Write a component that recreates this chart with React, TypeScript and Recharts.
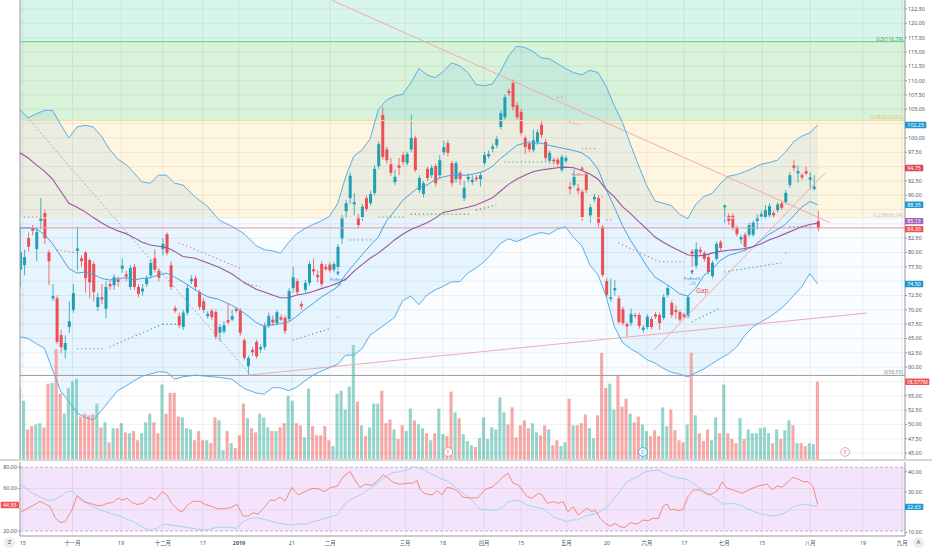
import React from 'react';
import {
  ComposedChart, Bar, Line, Area, XAxis, YAxis, ReferenceLine, ReferenceArea, ReferenceDot,
} from 'recharts';

// ---------- price candles (index 0 = partially hidden first bar) ----------
const opens = [77,77.8,82.5,84.2,80.6,85.5,86.9,80,72,72,65.6,63,67,70,80.3,79,80,78.7,78,70.5,72.2,70.2,74.5,74.3,75.3,77.2,76.2,74,77.5,74,73.2,74.5,76,79,76.8,80.6,83.2,77.8,70.3,68.9,
67,69.5,75,75.5,73.1,71.5,68.9,69.8,69.6,66,66.2,68.2,68.3,70.1,69.8,64.7,60.2,63,64.4,63.1,63.5,67.2,68.3,67.7,68.7,68.6,68.4,73.8,75,71,73.5,74.7,77.1,76.1,78,77.5,77.9,77,77.5,
82.5,87.2,89.5,88.4,86.2,86.2,89.5,88.6,90.4,95.1,104,98,95.4,92.3,95.2,97,95.6,98,100,90.9,90.2,94.6,93.5,95.1,93.5,97.5,99.1,95.6,92.8,93.9,89.5,92.8,92.3,93.1,92.8,95.6,96.8,98.1,98.7,101.9,
103.6,108.2,109.6,105.7,104.5,100,99,97.9,99.3,102.3,99.3,96,96.2,96.2,94.4,96,91.5,91.8,91.2,90.6,93.5,86.5,89.3,89.5,84.5,75,71.9,73.4,72,70.1,67.5,67.7,69.1,69.1,66.5,67,68.4,69.2,69.1,
68.6,72.6,71.2,70,69.6,69.2,68.9,80.2,77.7,80.5,79.9,79.2,75.9,78.9,81.8,87.9,86.4,86.4,84.3,82.3,83.1,83.1,83.1,85.5,86.3,86.2,86.5,86.9,87.4,88.6,88.8,91.8,95.2,93.8,93.5,94.2,92.7,91.1,85.5];
const highs = [84.5,80.5,83.5,84.8,84.4,89.5,87.5,80.5,74.5,72.5,66.5,65.5,71.5,74.5,84.5,79.5,80.3,79,78.5,73,74.5,75,75,76.2,75.8,79,76.8,77.8,78,74.5,74.5,76,78.8,80.5,77.2,82.5,83.5,78.5,70.8,69.5,
70,74.5,76,76,73.5,72,69.8,70.2,70,67.5,68,71,70,70.5,70.3,65,62,63.5,64.8,64,67.8,69.5,69,70,69.2,69,73.8,77.5,75.5,71.5,75.2,78.5,79,77,78.5,78,78.3,78.4,81.5,
86.6,89.2,94,90.4,86.7,88.5,90,90.8,95.2,99.4,105.4,98.5,96.5,94.5,96.5,97.5,97.6,104,100.4,93.5,92.5,95,95.3,95.5,97,99.5,99.6,96,96,94.3,92.5,93.8,93.5,93.5,94,97.5,97.8,99,100.3,104.8,
107.6,108.6,110.2,106.3,105,100.4,99.5,101.5,101.5,103,99.8,97.8,96.6,96.6,97.1,96.9,92.3,94.5,92,91,94,88.4,90.2,90,84.8,75.5,75.5,75.2,72.5,70.5,67.8,70.2,69.5,69.5,67.3,69.2,68.8,69.6,69.5,
72.7,74.2,71.6,70.8,70,69.5,72.6,80.6,81.8,81,80.3,79.6,78.6,81.9,82.2,88.4,86.8,86.8,84.7,83.1,83.5,85.2,85.6,86.7,87.2,88.3,88.6,87.3,88.8,89,90.9,94,96.2,95.2,93.9,95,94,93.5,87.3];
const lows = [74,76,80.2,83,78.5,84,81.5,74.3,71.5,64,62.5,61.5,66,69.5,76.9,77.5,73,72,71.5,69.8,71,68.5,73.5,73.5,74,76.5,75,73.5,73.5,72.2,72.5,74,75.5,76.5,75,79.5,79.5,73.5,69.5,66.8,
66.5,69,74.5,73.5,70,69.5,68.5,68.2,64.8,64.5,65.8,67.5,68,69.5,65.5,61.2,58.55,62,61.5,62.5,63,66.8,67.2,67.3,68,65.8,68,73,72.5,70,73,74.2,76,74.8,74,76.8,76.5,76.5,77,
81.5,86,88.5,86.5,84.2,85.5,87.2,88.2,90,94.6,96.2,95.5,93.4,91.8,93.5,95.2,95.2,97.5,94,90.4,89.6,92.5,93,91.5,93,97,96.8,91.5,92.2,91.8,89,92.2,91.8,92.4,91.5,95.2,96.4,97.5,98.2,101.5,
103.2,107.3,104.8,103.2,100.4,97.2,97.5,97.5,98.8,100,96,95.5,95.4,95,94,95.6,90.2,91.4,90.2,85.5,90.4,85.2,88.8,84.5,75.7,72.2,71.4,72.5,67.5,67.3,65.3,67.2,68.5,66.7,66,66.6,66.6,68.4,66.5,
68.2,72.2,68.6,68.4,67.9,68.5,68.5,77.5,77.2,79.6,78.4,76.2,75.5,78.5,80.4,85.2,84.8,83.9,82.8,81.5,80.2,82.7,82.7,84,85.8,85.8,86.1,86.1,87,87.4,88.4,91.3,94.2,92.2,92.7,93.5,91,90.8,83.7];
const closes = [80,79.2,81,83.8,83.6,86,82.5,78.5,72.4,64.4,63.5,64.2,68,72.9,80.7,78.5,75.5,74.8,73.1,72.2,71.8,74,74.1,75.7,74.9,77.7,75.8,77.3,74,72.8,73.7,75.5,78.2,77,75.6,81.5,79.9,74,69.8,67.3,
69.5,73.8,75.4,74,70.5,70,69.3,68.7,65.3,67,67.3,67.8,68.9,69.8,66,61.6,61.6,62.6,61.9,63.5,67.2,68.9,67.8,69.6,68.3,66.3,73.3,75.7,73.1,70.6,74.7,78,76.7,75.7,74.5,77.1,76.9,78,81,
86.2,88.6,93.4,88.8,84.8,88,87.6,90.2,94.6,98.9,96.7,96.1,93.9,93.2,94.8,95.8,97.2,100,94.4,93,92.1,93,94.8,92.1,96.1,98.4,97.4,92.1,95.6,92.8,91.3,93.2,92.7,92.8,93.5,97,97.2,98.5,99.8,104.3,
107.1,107.8,105.4,103.6,100.9,98.4,98,99.6,101,100.5,96.5,97.4,95.9,95.5,96.7,96.5,91.1,93.2,90.8,86.2,90.9,87.9,89.7,85.2,76.1,72.6,72.2,73.8,67.9,67.7,67.1,69.3,68.9,67.2,66.9,68.8,67,68.8,67.7,
72.2,73.8,69.1,69.6,68.3,68.8,72.2,79.8,80.6,80.1,78.9,76.6,78.2,81.5,80.8,88.2,85.5,84.3,83.2,82.7,81,84.8,85.2,86.2,86.7,87.4,88.1,86.5,88.4,87.8,90.4,93.5,94.8,94.2,93.1,93.8,93.1,91.5,84.3];
// volume in millions
const volumes = [17.1,14,7.1,7.9,8.3,8.6,7.6,18.1,18.3,26.4,15.7,10.9,17.1,18.6,19.3,10.2,10.9,10.5,10.7,13.3,7.6,8.8,4,7.4,7.4,8.6,6.4,6.2,6.7,4.5,6.2,8.8,10.9,8.8,6.2,17.9,10.9,15.9,15.9,10.2,
10,7.4,7.1,4.5,6.7,4.5,4.5,3.8,10,9.3,2.1,6.7,3.8,2.6,5.7,13.3,9.8,7.4,6.4,10.9,10,7.6,6.7,6.7,7.6,8.6,15.2,14,8.6,8.1,5.2,16.9,7.9,5.7,5.7,7.9,4.5,3.1,15.7,
16.4,11.9,17.4,27.4,13.8,8.1,5.5,7.6,13.3,13.3,16.4,8.6,9.5,7.1,4.8,8.1,6.7,12.1,9.3,8.3,7.4,6.2,4.5,6.2,12.1,6,5.5,16.2,11.2,9.8,6,4.3,3.3,2.9,5,10,4.8,7.6,7.1,14.8,
11.2,8.3,12.4,5.2,8.1,9.3,7.4,8.6,6.4,5.7,8.1,7.1,3.3,4.5,3.1,4,14.5,8.1,8.1,8.6,10.7,7.4,5,10.5,25.5,17.1,18.1,11.9,20.2,12.6,14.5,10.9,8.8,10.2,8.3,6.7,5.5,6.9,5.5,
12.4,7.9,11.9,6.9,4.5,4,8.3,25.5,10.5,6.2,4.3,7.1,4.5,10,6.2,17.9,6.2,4.8,3.8,9.8,4.8,7.1,6.2,6.2,7.4,7.6,6.2,3.8,7.1,4.8,6.9,9.3,8.1,3.8,3.8,3.1,3.8,3.6,18.577];

// ---------- Bollinger bands & slow MA (read at these bar indices) ----------
const bbIdx = [0,2,4,6,8,10,12,14,16,18,20,22,24,26,28,30,32,34,36,38,40,43,46,49,52,55,58,60,62,64,66,68,70,72,74,76,78,80,82,84,86,88,90,92,94,96,98,100,102,104,106,108,110,112,114,116,118,120,122,124,126,128,130,132,134,136,138,140,142,144,146,148,150,152,154,156,158,160,162,164,166,168,170,172,174,176,178,180,182,184,186,188,190,192,194,196];
const bbUpper = [104.9,103.5,104.2,104.8,104.8,102.3,100,101.9,102.2,101.9,100.3,98,96.3,95.4,93.9,92.3,92.1,93.5,93.5,92.1,91.8,89.7,88.1,85.6,84.6,83.3,81.2,80.5,80.3,79.9,81.8,83.3,84.2,84.9,85.5,86.3,88.5,93.2,96.8,97.9,99.8,104.9,106.6,107.3,107.6,109.6,112.1,111,110.5,111.6,113.1,112.6,111.4,109.3,109.1,109.4,111.5,114.3,116,115.8,115.1,114,113.8,113,112.1,111.4,111,111.8,111.4,109,105.6,102.7,98.8,95.1,91.6,89,88.6,88.2,86.7,85.9,88.4,89.8,90.3,92,93.3,93.6,94.1,94.7,95.4,95.7,96.1,97.5,99.3,100.3,100.9,102.25];
const bbLower = [65.3,65,64.1,63.3,59.5,55.8,54,52,51.2,50.8,52.4,54.2,55.9,56.7,57.6,58.4,58.8,59.2,59.1,57.9,58.3,58.6,58.4,58.2,57.9,56.3,55.5,55.3,56.4,56.4,55.9,56.5,57.6,58.6,59.3,59.9,60.5,62.1,62.1,63.2,65.6,66.6,67.6,68.7,71.6,72.4,70.9,72.6,73.5,74.1,74.9,74.9,76.4,77.3,78.4,79.9,81.6,82.4,81.9,82.5,83.1,83.5,83.2,84.1,84.5,82.6,81.2,77.8,76.1,72.3,67.1,64.3,63.2,62.4,61.3,60.7,59.8,59.1,58.8,58.3,59,59.7,60.6,61.5,62.3,63.5,65.5,67,67.9,68.7,69.7,70.9,72.5,74,76.3,74.5];
const bbBasis = [84.3,84.3,84.1,83.2,81.5,79.4,77.2,76.4,76.6,76.2,75.5,75.2,75.4,75.6,75.2,75.5,75.6,76.1,76.4,75.7,74.9,73.5,72.3,71.8,70.8,69.5,67.8,67.1,67.4,67.6,67.9,68.9,70.1,71.1,72.2,73.1,74,76.2,77.9,79.6,81.2,82.7,85.5,87.2,89.1,90.3,91.4,91.8,92.7,93.2,93.5,93.5,93.5,93.8,94.2,95,96.4,97.5,98.7,99.1,99.1,99.1,98.7,98.4,98.1,97.8,97.4,96.4,94.5,91,87.9,84.7,82.1,79.9,77.6,75.7,74.8,73.9,72.8,72.4,73.8,76,77,78.6,79.5,79.9,80.4,81,82.1,83.2,84,84.9,86.4,87.9,88.9,88.35];
const maSlow = [97.4,96.5,95.3,94.2,92.8,90.7,88.6,87.9,87.1,86.1,85.2,84.4,83.8,83.3,82.6,81.8,81.3,81.1,80.9,80.2,79.3,79,78.2,77.4,76.3,74.8,73.6,73.1,72.6,72.1,72.1,72.6,72.8,73.2,73.7,74.1,74.7,75.3,76.7,77.9,79,79.9,81,82.2,83.2,84,84.6,85.2,86,87,87.3,87.6,87.9,88.3,88.9,89.5,90.7,91.9,92.8,93.5,94.1,94.4,94.6,94.8,94.9,94.8,94.3,93.7,92.8,91,89.7,88,86.8,85.4,84.1,82.7,81.8,81,80.3,79.6,79.4,79.5,79.9,80.2,80.4,80.5,80.7,81,81.5,82.2,82.7,83.3,83.9,84.5,84.9,85.13];

// ---------- pivot level dots: [i0, p0, i1, p1] ----------
const pivHighSegs = [[1,86.2,7,86.2],[9,80.5,14,79.9],[39,81.7,54,77.3],[55,74.7,59,74.0],[132,107.1,134,107.1],[135,102.8,137,102.3],[138,98.1,142,98.1],[143,89.7,143.2,89.7],[144,85.7,146,85.7],[147,81.7,157,78.4],[157,78.4,164,78.4],[196,94.75,196.2,94.75]];
const pivLowSegs = [[14,63.2,21,63.2],[22,63.5,35,67.5],[35,67.5,39,67.5],[67,64.7,76,66.7],[78,68.7,78.2,68.7],[81,82.2,87,82.2],[88,86.2,95,86.2],[96,86.7,111,86.7],[112,87.4,117,88.3],[119,95.8,130,95.8],[165,67.9,172,70.3],[173,76.6,187,78.2],[188,79.9,188.2,79.9],[189,84.5,195,84.5]];

// ---------- trend lines: [i0, p0, i1, p1] ----------
const trendGray = [1.7, 103.65, 56, 59.15];
const trendPink = [[56,58.6,208.1,69.45],[76.7,124.0,199,85.2],[155.8,63.0,197.8,93.9]];

// ---------- Fibonacci retracement ----------
const fibRatios = [0.5, 0.382, 0.236, 0];
const fibPrices = [116.79, 103.05, 86.04, 58.55];

// ---------- oscillator pane ----------
const rsiPts = [[0.25,38],[3.2,44],[4.9,48],[7.4,43],[8.6,33],[9.8,28],[11.1,29],[12.8,40],[14,53],[15.5,48],[17.2,46],[18.9,44],[20.1,44],[21.4,46],[22.9,47],[24.1,51],[25.1,49],[26.3,51],[27.5,47],[28.7,45],[30.2,46],[31.9,52],[33.2,49],[34.9,57],[36.1,54],[37.3,46],[38.8,40],[39.8,38],[41,44],[42.5,48],[44.2,48],[45.5,45],[47.2,43],[48.6,41],[50.4,41],[51.6,42],[53.3,45],[54.8,34],[56,34],[57.2,37],[58.5,36],[60.2,43],[61.4,49],[62.7,49],[63.9,52],[65.1,48],[66.8,61],[68.3,54],[70,57],[71.7,60],[73.2,60],[74.9,57],[76.2,61],[77.9,62],[79.4,71],[81.1,76],[82.3,68],[83.5,61],[84.8,64],[86.5,63],[88,68],[89.2,73],[90.4,70],[91.6,66],[93.4,64],[95.1,65],[96.6,65],[97.5,68],[98.3,59],[99.5,55],[101.2,54],[102.5,58],[103.7,54],[104.9,61],[106.4,60],[107.6,57],[108.8,52],[110.6,51],[112.5,51.4],[114.3,59.3],[116.2,61.8],[118.7,71.2],[119.9,74.4],[121.1,65],[122.4,63.4],[124.6,52.4],[125.8,50.8],[127.3,55.5],[128.3,54],[129.5,46.1],[131,47.7],[132.2,46.1],[133.4,47.7],[134.6,38.2],[135.9,42.9],[137.1,35.1],[139.3,41.4],[140.5,38.2],[141.3,39.8],[142.5,31.9],[143.7,27.2],[145,24.7],[146.2,27.2],[147.4,24],[148.6,23.4],[149.9,27.8],[151.6,26.5],[153.1,30.3],[154.3,29.7],[155.5,31.9],[156.8,31.9],[158,43.5],[159,45.4],[159.7,39.8],[160.9,40.4],[161.7,39.2],[162.9,40.4],[164.1,52.4],[165.4,58.7],[167.1,58.7],[169,54],[170.3,55.5],[171.5,58.7],[172.5,66.5],[173.7,60.3],[175.2,58.7],[177.4,55.5],[179.4,59.3],[181.3,62.4],[182.6,63.4],[183.5,64.3],[184.8,58.7],[186,62.4],[187.2,61.2],[189.2,68.1],[189.9,70.6],[191.2,68.7],[192.4,66.5],[193.6,66.5],[194.8,61.8],[196,44.55]];
const oscPts = [[0.25,33.4],[3.2,29.3],[4.9,27.6],[6.6,26],[8.1,26],[9.8,27.6],[11.5,30.1],[12.8,30.4],[14,28.5],[15.5,26],[17.2,23.5],[19.7,21.1],[22.1,19.5],[24.6,18.1],[27.8,15.3],[30.2,12.6],[31.9,11.2],[33.7,12.1],[35.1,14.2],[36.9,13.7],[40,12.9],[43.5,11.6],[45.9,11.2],[48.4,12.6],[50.9,12.6],[53.3,12.1],[54.8,15.3],[56.5,17],[58.2,17.3],[59.7,16.6],[62.2,15.3],[64.6,14.2],[66.3,13.7],[68.1,14.2],[70.5,14.2],[72,15.3],[73.7,16.2],[76.2,17.8],[77.9,18.6],[79.9,24.4],[81.8,26.8],[84.3,29.3],[86.7,32.6],[89.2,36.7],[91.4,39.5],[93.4,40],[95.3,41.1],[96.6,42.4],[98.8,41.6],[100.7,39.2],[103.2,36.7],[104.9,35.5],[106.4,33.4],[108.1,30.5],[110.6,27],[113,21.4],[114.7,21.1],[117.2,21.1],[118.7,22.7],[119.9,25.2],[122.4,26],[124.6,23.5],[127,22.4],[128.3,21.9],[129.5,20.3],[131,17.8],[132.7,16.5],[134.2,15.3],[135.6,16.2],[137.1,16.2],[138.8,18.1],[140.8,18.9],[142.5,20.3],[144.2,22.7],[146.7,28.5],[149.1,35],[151.6,37.5],[153.6,40],[155.3,40.5],[156.8,40.8],[159.2,38.3],[161.4,37.1],[163.9,36.2],[165.4,34.2],[167.8,30.9],[170.3,27.6],[172.7,24],[175.2,24.4],[176.9,23.5],[179.4,21.1],[181.3,19.5],[183.5,18.6],[185,18.1],[187.2,19.1],[188.5,20.3],[189.9,22.7],[192.4,24],[194.1,23.5],[196,22.63]];

// ---------- axes ----------
const tickPos = [0.7,12.9,24.8,35.1,44.9,53.8,66.8,76.2,94.6,103.9,114,123.1,134.2,144.2,154,163.2,173,182.3,194.1,207.1,216.7];
const tickLabels = ['15','十一月','19','十二月','17','2019','21','二月','三月','18','四月','15','五月','20','六月','17','七月','15','八月','19','九月'];
const priceTicks = [45,47.5,50,52.5,55,57.5,60,62.5,65,67.5,70,72.5,75,77.5,80,82.5,85,87.5,90,92.5,95,97.5,100,102.5,105,107.5,110,112.5,115,117.5,120,122.5];
// tick labels covered by the value tags on the price scale
const coveredPriceTicks = [57.5, 75, 85, 87.5, 95, 102.5];
const rsiLeftTicks = [20,40,60,80];
const rsiRightTicks = [10,20,30,40];
const coveredLeftTicks = [40];
const coveredRightTicks = [20];

// event markers
const earningsIdx = [105.2, 202.7];
const dividendIdx = [153];
const pivLE = [[78.1, 76.4], [165.1, 76.6]];
const pivSE = [[137.6, 93.4]];
const gapAt = [167.6, 73.3];

// ---------- constants (domains / colors) ----------
const X_MIN = 0, X_MAX = 217.4;
const P_MIN = 43.97, P_MAX = 124.07;
const VOL_MAX = 110.3;
const UP = '#20a0b4', DN = '#ee4f55';
const VUP = '#94d5cc', VDN = '#f7a8a7';
const BB = '#5aaee6', MA = '#9a55a0';
const FONT = "'Noto Sans', 'Noto Sans CJK SC', sans-serif";
const AX_TXT = '#50535e';
const GRID = 'rgba(42,46,57,0.07)';

const candles = opens.map((o, i) => ({ i, o, h: highs[i], l: lows[i], c: closes[i], v: volumes[i] }));
const bbData = bbIdx.map((i, k) => ({ i, u: bbUpper[k], l: bbLower[k], m: bbBasis[k], ma: maSlow[k], band: [bbLower[k], bbUpper[k]] }));
const rsiData = rsiPts.map(([i, v]) => ({ i, v }));
const oscData = oscPts.map(([i, v]) => ({ i, v }));
const last = candles.length - 1;

const CandleShape = (props: any) => {
  const { x, y, width, height, payload } = props;
  if (!payload || y == null || height == null) return null;
  const { o, h, l, c } = payload;
  const col = c >= o ? UP : DN;
  const hh = Math.abs(height);
  const top = Math.min(y, y + height);
  const k = h - l > 0 ? hh / (h - l) : 0;
  const bt = top + (h - Math.max(o, c)) * k;
  const bb = top + (h - Math.min(o, c)) * k;
  const cx = x + width / 2;
  return (
    <g>
      <line x1={cx} x2={cx} y1={top} y2={top + hh} stroke={col} strokeWidth={0.8} />
      <rect x={x} y={bt} width={width} height={Math.max(bb - bt, 0.8)} fill={col} />
    </g>
  );
};

const VolShape = (props: any) => {
  const { x, y, width, height, payload } = props;
  if (!payload || y == null) return null;
  return <rect x={x} y={Math.min(y, y + height)} width={width} height={Math.abs(height)} fill={payload.c >= payload.o ? VUP : VDN} />;
};

// value tag on a scale; dy nudges stacked tags apart like the platform does
const tag = (text: string, bg: string, side: 'right' | 'left' = 'right', dy = 0) => (props: any) => {
  const { cx } = props;
  const cy = props.cy + dy;
  const w = text.length * 3.05 + 3;
  const x0 = side === 'right' ? cx : cx - w - 1;
  return (
    <g>
      <rect x={x0} y={cy - 3.2} width={w} height={6.4} fill={bg} rx={0.6} />
      <text x={x0 + w / 2} y={cy + 1.9} textAnchor="middle" fontSize={5.3} fill="#fff" fontFamily={FONT}>{text}</text>
    </g>
  );
};

const fibColors = ['#3f9f53', '#e5c27a', '#c2c6cc', '#8f9299'];
const fibLabel = (text: string, color: string) => (props: any) => (
  <text x={props.cx - 2} y={props.cy - 1.2} textAnchor="end" fontSize={5.2} fill={color} fontFamily={FONT}>{text}</text>
);

const eventShape = (letter: string, color: string) => (props: any) => (
  <g>
    <circle cx={props.cx} cy={props.cy} r={4.3} fill="#fff" stroke={color} strokeWidth={0.8} />
    <text x={props.cx} y={props.cy + 1.9} textAnchor="middle" fontSize={5} fill={color} fontFamily={FONT}>{letter}</text>
  </g>
);

const LEShape = (props: any) => {
  const { cx, cy } = props;
  const c = '#2e8fd6';
  return (
    <g>
      <path d={`M${cx} ${cy - 2.6} L${cx - 1.8} ${cy} L${cx - 0.7} ${cy} L${cx - 0.7} ${cy + 2} L${cx + 0.7} ${cy + 2} L${cx + 0.7} ${cy} L${cx + 1.8} ${cy} Z`} fill={c} />
      <text x={cx} y={cy + 7.5} textAnchor="middle" fontSize={4} fill={c} fontFamily={FONT}>PivRevLE</text>
      <text x={cx} y={cy + 12.5} textAnchor="middle" fontSize={4} fill={c} fontFamily={FONT}>+10</text>
    </g>
  );
};
const SEShape = (props: any) => {
  const { cx, cy } = props;
  const c = '#ef5350';
  return (
    <g>
      <text x={cx} y={cy} textAnchor="middle" fontSize={4} fill={c} fontFamily={FONT}>PivRevSE</text>
      <path d={`M${cx + 2} ${cy - 4.5} L${cx + 0.2} ${cy - 7} L${cx + 1.3} ${cy - 7} L${cx + 1.3} ${cy - 9} L${cx + 2.7} ${cy - 9} L${cx + 2.7} ${cy - 7} L${cx + 3.8} ${cy - 7} Z`} fill={c} />
    </g>
  );
};
const GapShape = (props: any) => (
  <text x={props.cx} y={props.cy + 2} textAnchor="middle" fontSize={6.6} fill="#ef5350" fontFamily={FONT}>Gap</text>
);

const XTick = (props: any) => {
  const { x, y, payload } = props;
  const idx = tickPos.indexOf(payload.value);
  const label = idx >= 0 ? tickLabels[idx] : '';
  return (
    <text x={x} y={y + 8.5} textAnchor="middle" fontSize={5.4} fill={AX_TXT} fontFamily={FONT} fontWeight={label === '2019' ? 700 : 400}>{label}</text>
  );
};

export default function App() {
  const pAx = { xAxisId: 'p', yAxisId: 'p' } as const;
  const priceTags: [number, string, number][] = [
    [bbUpper[bbUpper.length - 1], '#1e98cf', 0],
    [pivHighSegs[pivHighSegs.length - 1][1], '#df4659', 0],
    [bbBasis[bbBasis.length - 1], '#1e98cf', 0],
    [maSlow[maSlow.length - 1], '#a266b8', -2],
    [closes[last], '#ef5350', 1.2],
    [bbLower[bbLower.length - 1], '#1e98cf', 0],
  ];
  const axisPriceTicks = priceTicks.filter((t) => !coveredPriceTicks.includes(t));
  const axisLeftTicks = rsiLeftTicks.filter((t) => !coveredLeftTicks.includes(t));
  const axisRightTicks = rsiRightTicks.filter((t) => !coveredRightTicks.includes(t));
  return (
    <div style={{ position: 'absolute', left: 0, top: 0, width: 932, height: 550, background: '#fff', overflow: 'hidden', fontFamily: FONT }}>
      <div style={{ position: 'absolute', left: 0, top: 0 }}>
        <ComposedChart width={932} height={460} data={candles} margin={{ top: 0, right: 0, bottom: 1, left: 20 }}>
          <XAxis xAxisId="p" type="number" dataKey="i" domain={[X_MIN, X_MAX]} hide allowDataOverflow />
          <XAxis xAxisId="v" type="number" dataKey="i" domain={[X_MIN, X_MAX]} hide allowDataOverflow />
          <YAxis yAxisId="p" orientation="right" type="number" domain={[P_MIN, P_MAX]} ticks={axisPriceTicks} interval={0}
            allowDataOverflow width={27} tickFormatter={(v: number) => v.toFixed(2)}
            tick={{ fontSize: 5.4, fill: AX_TXT, fontFamily: FONT }} tickSize={2} tickMargin={1}
            axisLine={{ stroke: '#9598a1' }} tickLine={{ stroke: '#9598a1' }} />
          <YAxis yAxisId="vol" hide type="number" domain={[0, VOL_MAX]} allowDataOverflow />

          {/* Fibonacci zones */}
          <ReferenceArea {...pAx} y1={fibPrices[0]} y2={P_MAX} fill="rgb(8,190,140)" fillOpacity={0.16} stroke="none" />
          <ReferenceArea {...pAx} y1={fibPrices[1]} y2={fibPrices[0]} fill="rgb(76,200,80)" fillOpacity={0.22} stroke="none" />
          <ReferenceArea {...pAx} y1={fibPrices[2]} y2={fibPrices[1]} fill="rgb(255,200,60)" fillOpacity={0.16} stroke="none" />
          <ReferenceArea {...pAx} y1={fibPrices[3]} y2={fibPrices[2]} fill="rgb(33,150,243)" fillOpacity={0.025} stroke="none" />

          {/* grid */}
          {priceTicks.map((t) => <ReferenceLine key={'hg' + t} {...pAx} y={t} stroke={GRID} strokeWidth={1} />)}
          {tickPos.map((t) => <ReferenceLine key={'vg' + t} {...pAx} x={t} stroke={GRID} strokeWidth={1} />)}
          <ReferenceLine {...pAx} x={X_MIN} stroke="#a5a8b0" strokeWidth={1.2} />

          {/* fib level lines */}
          <ReferenceLine {...pAx} y={fibPrices[0]} stroke="#7fcf8c" strokeWidth={1.2} />
          <ReferenceLine {...pAx} y={fibPrices[1]} stroke="#f4dc9e" strokeWidth={1} />
          <ReferenceLine {...pAx} y={fibPrices[2]} stroke="#e8ebf0" strokeWidth={1} />
          <ReferenceLine {...pAx} y={fibPrices[3]} stroke="#9a9da4" strokeWidth={1} />

          {/* volume */}
          <Bar xAxisId="v" yAxisId="vol" dataKey="v" barSize={3.1} shape={VolShape} isAnimationActive={false} />

          {/* Bollinger fill */}
          <Area {...pAx} data={bbData} dataKey="band" type="linear" stroke="none" fill="#2196f3" fillOpacity={0.09} isAnimationActive={false} dot={false} activeDot={false} />

          {/* trend lines */}
          <ReferenceLine {...pAx} segment={[{ x: trendGray[0], y: trendGray[1] }, { x: trendGray[2], y: trendGray[3] }]} stroke="#a3a3a3" strokeDasharray="2 2" strokeWidth={0.9} ifOverflow="visible" />
          {trendPink.map((s, k) => (
            <ReferenceLine key={'tp' + k} {...pAx} segment={[{ x: s[0], y: s[1] }, { x: s[2], y: s[3] }]} stroke="#f3a9b0" strokeWidth={1} ifOverflow="visible" />
          ))}
          <ReferenceLine {...pAx} y={closes[last]} stroke="#f0959c" strokeWidth={1} />

          {/* bands & MA */}
          <Line {...pAx} data={bbData} dataKey="u" type="linear" stroke={BB} strokeWidth={1} dot={false} activeDot={false} isAnimationActive={false} />
          <Line {...pAx} data={bbData} dataKey="l" type="linear" stroke={BB} strokeWidth={1} dot={false} activeDot={false} isAnimationActive={false} />
          <Line {...pAx} data={bbData} dataKey="m" type="linear" stroke="#4aa1de" strokeWidth={1} dot={false} activeDot={false} isAnimationActive={false} />
          <Line {...pAx} data={bbData} dataKey="ma" type="linear" stroke={MA} strokeWidth={1.1} dot={false} activeDot={false} isAnimationActive={false} />

          {/* pivot dots */}
          {pivHighSegs.map((s, k) => (
            <ReferenceLine key={'ph' + k} {...pAx} segment={[{ x: s[0], y: s[1] }, { x: s[2], y: s[3] }]} stroke="#e35d6a" strokeWidth={1.1} strokeDasharray="1.1 2.97" ifOverflow="visible" />
          ))}
          {pivLowSegs.map((s, k) => (
            <ReferenceLine key={'pl' + k} {...pAx} segment={[{ x: s[0], y: s[1] }, { x: s[2], y: s[3] }]} stroke="#2e9b6a" strokeWidth={1.1} strokeDasharray="1.1 2.97" ifOverflow="visible" />
          ))}

          {/* candles */}
          <Bar {...pAx} dataKey={(d: any) => [d.l, d.h]} barSize={3} shape={CandleShape} isAnimationActive={false} />

          {/* annotations */}
          {pivLE.map((p, k) => <ReferenceDot key={'le' + k} {...pAx} x={p[0]} y={p[1]} r={1} shape={LEShape} ifOverflow="visible" />)}
          {pivSE.map((p, k) => <ReferenceDot key={'se' + k} {...pAx} x={p[0]} y={p[1]} r={1} shape={SEShape} ifOverflow="visible" />)}
          <ReferenceDot {...pAx} x={gapAt[0]} y={gapAt[1]} r={1} shape={GapShape} ifOverflow="visible" />
          {earningsIdx.map((e, k) => <ReferenceDot key={'e' + k} xAxisId="v" yAxisId="vol" x={e} y={1.7} r={4} shape={eventShape('E', '#f08a8a')} ifOverflow="visible" />)}
          {dividendIdx.map((e, k) => <ReferenceDot key={'d' + k} xAxisId="v" yAxisId="vol" x={e} y={1.7} r={4} shape={eventShape('D', '#3d9be0')} ifOverflow="visible" />)}

          {/* fib labels */}
          {fibRatios.map((r, k) => (
            <ReferenceDot key={'fl' + k} {...pAx} x={X_MAX} y={fibPrices[k]} r={1} shape={fibLabel(`${r}(${fibPrices[k].toFixed(2)})`, fibColors[k])} ifOverflow="visible" />
          ))}

          {/* price tags */}
          {priceTags.map(([p, bg, dy], k) => (
            <ReferenceDot key={'pt' + k} {...pAx} x={X_MAX} y={p} r={1} shape={tag(p.toFixed(2), bg, 'right', dy)} ifOverflow="visible" />
          ))}
          <ReferenceDot xAxisId="v" yAxisId="vol" x={X_MAX} y={volumes[last]} r={1} shape={tag(volumes[last].toFixed(3) + 'M', '#ef5350')} ifOverflow="visible" />
        </ComposedChart>
      </div>

      <div style={{ position: 'absolute', left: 0, top: 459, width: 932, height: 2, background: '#d5d7dd' }} />

      <div style={{ position: 'absolute', left: 0, top: 461 }}>
        <ComposedChart width={932} height={89} margin={{ top: 1, right: 0, bottom: 0, left: 0 }}>
          <XAxis type="number" dataKey="i" domain={[X_MIN, X_MAX]} ticks={tickPos} interval={0} tick={XTick}
            tickLine={false} tickSize={0} tickMargin={0} axisLine={{ stroke: '#9598a1' }} height={14} allowDataOverflow />
          <YAxis yAxisId="l" orientation="left" type="number" domain={[15.3, 85]} ticks={axisLeftTicks} interval={0} width={20}
            allowDataOverflow tickFormatter={(v: number) => v.toFixed(2)} tick={{ fontSize: 5.4, fill: AX_TXT, fontFamily: FONT }}
            tickSize={2} tickMargin={1} axisLine={{ stroke: '#9598a1' }} tickLine={{ stroke: '#9598a1' }} />
          <YAxis yAxisId="r" orientation="right" type="number" domain={[8.27, 44.8]} ticks={axisRightTicks} interval={0} width={27}
            allowDataOverflow tickFormatter={(v: number) => v.toFixed(2)} tick={{ fontSize: 5.4, fill: AX_TXT, fontFamily: FONT }}
            tickSize={2} tickMargin={1} axisLine={{ stroke: '#9598a1' }} tickLine={{ stroke: '#9598a1' }} />

          <ReferenceArea yAxisId="l" y1={20} y2={80} fill="#f3e4fb" fillOpacity={1} stroke="none" />
          {[40, 60].map((t) => <ReferenceLine key={'rg' + t} yAxisId="l" y={t} stroke={GRID} />)}
          {tickPos.map((t) => <ReferenceLine key={'rv' + t} yAxisId="l" x={t} stroke={GRID} />)}
          <ReferenceLine yAxisId="l" y={80} stroke="#c9abdf" strokeDasharray="3 2" />
          <ReferenceLine yAxisId="l" y={20} stroke="#c9abdf" strokeDasharray="3 2" />

          <Line yAxisId="r" data={oscData} dataKey="v" type="linear" stroke="#9fd8ea" strokeWidth={1} dot={false} activeDot={false} isAnimationActive={false} />
          <Line yAxisId="l" data={rsiData} dataKey="v" type="linear" stroke="#f3806b" strokeWidth={0.9} dot={false} activeDot={false} isAnimationActive={false} />

          <ReferenceDot yAxisId="l" x={X_MIN} y={rsiPts[rsiPts.length - 1][1]} r={1} shape={tag(rsiPts[rsiPts.length - 1][1].toFixed(2), '#ef5350', 'left')} ifOverflow="visible" />
          <ReferenceDot yAxisId="r" x={X_MAX} y={oscPts[oscPts.length - 1][1]} r={1} shape={tag(oscPts[oscPts.length - 1][1].toFixed(2), '#1e98cf')} ifOverflow="visible" />
        </ComposedChart>
      </div>

      <div style={{ position: 'absolute', left: 4, top: 537, width: 11, height: 11, borderRadius: 6, background: '#eceef2', color: '#50535e', fontSize: 6, lineHeight: '11px', textAlign: 'center' }}>Z</div>
      <div style={{ position: 'absolute', left: 913, top: 537, width: 11, height: 11, borderRadius: 6, background: '#eceef2', color: '#50535e', fontSize: 6, lineHeight: '11px', textAlign: 'center' }}>A</div>
    </div>
  );
}
